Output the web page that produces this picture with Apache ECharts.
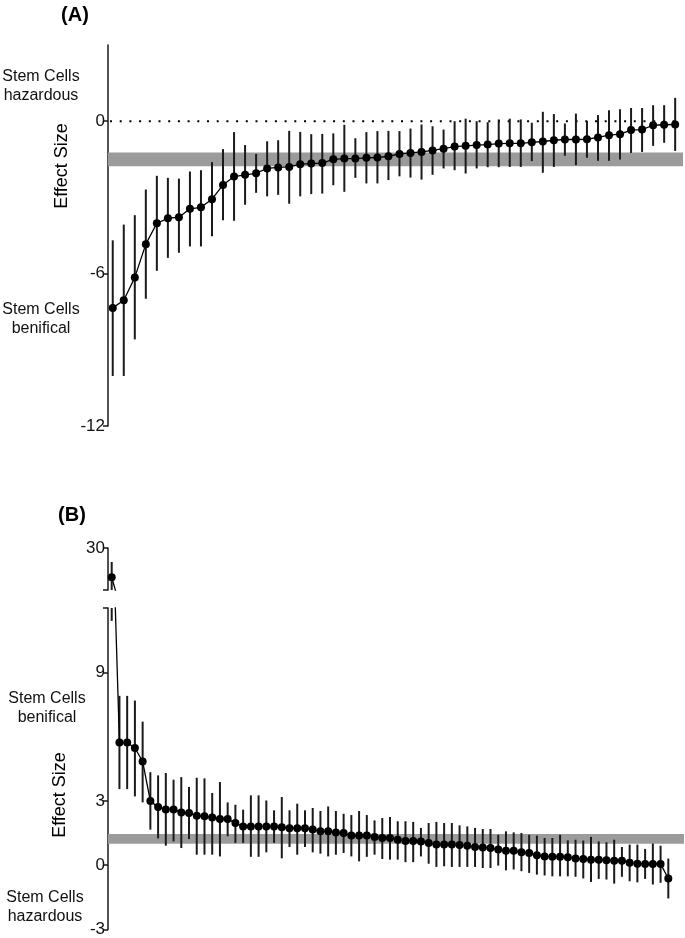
<!DOCTYPE html>
<html>
<head>
<meta charset="utf-8">
<script src="https://cdn.jsdelivr.net/npm/echarts@6/dist/echarts.min.js"></script>
<style>
html,body{margin:0;padding:0;background:#fff;}
#chart{width:685px;height:938px;}
</style>
</head>
<body>
<div id="chart"></div>
<script>
// ---------- Panel A data ----------
const A_mean = [-7.35,-7.05,-6.15,-4.84,-4.02,-3.82,-3.78,-3.45,-3.39,-3.07,-2.51,-2.18,-2.11,-2.05,-1.86,-1.82,-1.80,-1.69,-1.67,-1.65,-1.50,-1.47,-1.47,-1.44,-1.43,-1.38,-1.29,-1.25,-1.21,-1.15,-1.08,-1.00,-0.97,-0.94,-0.92,-0.88,-0.87,-0.87,-0.83,-0.80,-0.75,-0.72,-0.72,-0.71,-0.64,-0.55,-0.51,-0.35,-0.33,-0.16,-0.14,-0.13];
const A_low = [-10.03,-10.03,-8.59,-6.99,-5.89,-5.38,-5.18,-4.93,-4.93,-4.53,-3.90,-3.92,-3.29,-2.82,-2.96,-2.90,-3.25,-2.96,-2.87,-2.85,-2.52,-2.78,-2.23,-2.45,-2.45,-2.32,-2.17,-2.22,-2.30,-2.11,-1.86,-1.93,-2.06,-1.86,-1.81,-1.81,-1.80,-1.80,-1.57,-2.03,-1.80,-1.36,-1.73,-1.44,-1.56,-1.56,-1.51,-1.25,-1.21,-0.97,-0.85,-1.17];
const A_high = [-4.69,-4.07,-3.70,-2.69,-2.15,-2.23,-2.26,-1.98,-1.93,-1.61,-1.10,-0.43,-0.94,-1.29,-0.79,-0.75,-0.38,-0.42,-0.51,-0.50,-0.48,-0.14,-0.67,-0.43,-0.39,-0.38,-0.39,-0.29,-0.13,-0.20,-0.33,0.00,0.10,0.00,-0.04,0.07,0.10,0.07,-0.06,0.37,0.28,-0.09,0.30,0.01,0.24,0.43,0.47,0.52,0.52,0.63,0.63,0.92];
const A_band = [-1.77, -1.23];
const A_refLine = 0;
const A_ticks = [-12, -6, 0];
const A_range = [-12, 3];

// ---------- Panel B data ----------
const B_mean = [17.5,5.72,5.72,5.47,4.84,2.99,2.71,2.60,2.60,2.46,2.43,2.31,2.28,2.23,2.15,2.15,1.97,1.81,1.81,1.81,1.81,1.81,1.77,1.72,1.72,1.72,1.66,1.58,1.58,1.53,1.50,1.38,1.38,1.38,1.32,1.27,1.27,1.19,1.13,1.13,1.11,1.04,0.96,0.96,0.96,0.94,0.91,0.85,0.83,0.80,0.73,0.68,0.68,0.60,0.57,0.46,0.41,0.39,0.39,0.37,0.31,0.29,0.26,0.26,0.23,0.21,0.21,0.11,0.07,0.06,0.06,0.06,-0.62];
const B_low = [11.4,3.55,3.55,3.21,2.93,1.66,1.25,0.91,1.11,0.80,1.22,0.49,0.49,0.49,0.41,1.35,1.04,1.04,0.39,0.39,0.60,1.04,0.32,0.85,0.49,0.85,0.60,0.54,0.41,0.49,0.57,0.41,0.18,0.39,0.49,0.29,0.26,0.26,0.14,0.14,0.41,0.07,-0.08,-0.05,-0.08,-0.08,-0.08,-0.08,-0.13,-0.13,-0.02,-0.24,-0.20,-0.28,-0.36,-0.44,-0.48,-0.52,-0.52,-0.52,-0.54,-0.62,-0.78,-0.64,-0.67,-0.86,-0.54,-0.75,-0.80,-0.64,-0.90,-0.82,-1.55];
const B_high = [24.0,7.90,7.90,7.68,6.70,4.34,4.19,4.30,3.99,4.11,3.65,4.08,4.05,3.37,3.88,2.93,2.82,2.59,3.26,3.26,3.02,2.56,3.18,2.56,2.87,2.56,2.67,2.53,2.74,2.53,2.40,2.34,2.53,2.34,2.09,2.20,2.25,2.05,2.05,2.02,1.74,1.97,2.02,1.97,1.97,1.86,1.81,1.74,1.69,1.69,1.42,1.58,1.53,1.50,1.42,1.38,1.27,1.27,1.42,1.16,1.19,1.15,1.32,1.11,1.07,1.19,0.85,0.96,0.96,0.76,1.01,0.91,0.31];
const B_band = [1.00, 1.46];
const B_upperRange = [12, 30];
const B_lowerRange = [-3, 12];
const B_upperTicks = [12, 30];
const B_upperLabels = [30];
const B_lowerTicks = [-3, 0, 3, 9, 12];
const B_lowerLabels = [-3, 0, 3, 9];

const FONT = 'Liberation Sans, Arial, Helvetica, sans-serif';
const INK = '#1a1a1a';

function errData(low, high){ return low.map((l,i)=>[i, l, high[i]]); }
function ptData(mean){ return mean.map((v,i)=>[i, v]); }

function errRender(params, api){
  const x = api.value(0), lo = api.value(1), hi = api.value(2);
  const p1 = api.coord([x, lo]), p2 = api.coord([x, hi]);
  const cs = params.coordSys;
  const top = cs.y, bot = cs.y + cs.height;
  let y1 = Math.min(Math.max(p1[1], top), bot);
  let y2 = Math.min(Math.max(p2[1], top), bot);
  if (Math.abs(y1 - y2) < 0.01) return null;
  return {type:'line', shape:{x1:p1[0], y1:y1, x2:p1[0], y2:y2},
          style:{stroke:INK, lineWidth:2}};
}
function bandRender(params, api){
  const cs = params.coordSys;
  const a = api.coord([0, api.value(0)]), b = api.coord([0, api.value(1)]);
  return {type:'rect', shape:{x:cs.x, y:Math.min(a[1],b[1]), width:cs.width, height:Math.abs(a[1]-b[1])},
          style:{fill:'#9b9b9b'}};
}
function refRender(params, api){
  const cs = params.coordSys;
  const p = api.coord([0, api.value(0)]);
  return {type:'line', shape:{x1:cs.x+2, y1:p[1], x2:cs.x+cs.width-4, y2:p[1]},
          style:{stroke:'#000', lineWidth:2, lineDash:[2,7.7]}};
}

function yAx(gridIndex, range, ticks, labels){
  return {
    type:'value', gridIndex, min:range[0], max:range[1],
    axisLine:{show:true, onZero:false, lineStyle:{color:INK, width:1.5}},
    axisTick:{show:true, length:5, customValues:ticks, lineStyle:{color:INK, width:1.5}},
    axisLabel:{show:true, customValues:labels, color:'#111', fontSize:17, fontFamily:FONT, margin:3},
    splitLine:{show:false}
  };
}
function xAx(gridIndex, min, max){
  return {type:'value', gridIndex, min, max, show:false, splitLine:{show:false}};
}

const chart = echarts.init(document.getElementById('chart'), null, {renderer:'canvas'});

const option = {
  animation:false,
  backgroundColor:'#fff',
  grid:[
    {left:108, top:45, width:575, height:381},
    {left:108, top:548, width:576, height:42},
    {left:108, top:608, width:576, height:322}
  ],
  xAxis:[ xAx(0, -0.43, 51.71), xAx(1, -0.48, 74.03), xAx(2, -0.48, 74.03) ],
  yAxis:[ yAx(0, A_range, A_ticks, A_ticks), yAx(1, B_upperRange, B_upperTicks, B_upperLabels), yAx(2, B_lowerRange, B_lowerTicks, B_lowerLabels) ],
  series:[
    // Panel A
    {type:'custom', xAxisIndex:0, yAxisIndex:0, z:1, data:[A_band], renderItem:bandRender, encode:{y:[0,1]}, silent:true},
    {type:'custom', xAxisIndex:0, yAxisIndex:0, z:2, data:[[A_refLine]], renderItem:refRender, encode:{y:0}, silent:true},
    {type:'custom', xAxisIndex:0, yAxisIndex:0, z:3, data:errData(A_low, A_high), renderItem:errRender, encode:{x:0, y:[1,2]}},
    {type:'line', xAxisIndex:0, yAxisIndex:0, z:4, data:ptData(A_mean), symbol:'circle', symbolSize:8,
     itemStyle:{color:'#000'}, lineStyle:{color:'#000', width:1.3}},
    // Panel B upper
    {type:'custom', xAxisIndex:1, yAxisIndex:1, z:3, data:errData(B_low, B_high), renderItem:errRender, encode:{x:0, y:[1,2]}},
    {type:'line', xAxisIndex:1, yAxisIndex:1, z:4, data:ptData(B_mean), symbol:'circle', symbolSize:8, clip:true,
     itemStyle:{color:'#000'}, lineStyle:{color:'#000', width:1.3}},
    // Panel B lower
    {type:'custom', xAxisIndex:2, yAxisIndex:2, z:1, data:[B_band], renderItem:bandRender, encode:{y:[0,1]}, silent:true},
    {type:'custom', xAxisIndex:2, yAxisIndex:2, z:3, data:errData(B_low, B_high), renderItem:errRender, encode:{x:0, y:[1,2]}},
    {type:'line', xAxisIndex:2, yAxisIndex:2, z:4, data:ptData(B_mean), symbol:'circle', symbolSize:8, clip:true,
     itemStyle:{color:'#000'}, lineStyle:{color:'#000', width:1.3}}
  ],
  graphic:[
    {type:'text', style:{text:'(A)', x:75, y:15, align:'center', verticalAlign:'middle', font:'bold 20px '+FONT, fill:'#000'}},
    {type:'text', style:{text:'Stem Cells\nhazardous', x:41, y:86, align:'center', verticalAlign:'middle', font:'16px '+FONT, lineHeight:19, fill:'#111'}},
    {type:'text', style:{text:'Stem Cells\nbenifical', x:41, y:319, align:'center', verticalAlign:'middle', font:'16px '+FONT, lineHeight:19, fill:'#111'}},
    {type:'text', x:62, y:166, rotation:Math.PI/2, style:{text:'Effect Size', x:0, y:0, align:'center', verticalAlign:'middle', font:'18px '+FONT, fill:'#000'}},
    {type:'text', style:{text:'(B)', x:72, y:515, align:'center', verticalAlign:'middle', font:'bold 20px '+FONT, fill:'#000'}},
    {type:'text', style:{text:'Stem Cells\nbenifical', x:47, y:708, align:'center', verticalAlign:'middle', font:'16px '+FONT, lineHeight:19, fill:'#111'}},
    {type:'text', x:60, y:795, rotation:Math.PI/2, style:{text:'Effect Size', x:0, y:0, align:'center', verticalAlign:'middle', font:'18px '+FONT, fill:'#000'}},
    {type:'text', style:{text:'Stem Cells\nhazardous', x:45, y:907, align:'center', verticalAlign:'middle', font:'16px '+FONT, lineHeight:19, fill:'#111'}}
  ]
};
chart.setOption(option);
</script>
</body>
</html>
